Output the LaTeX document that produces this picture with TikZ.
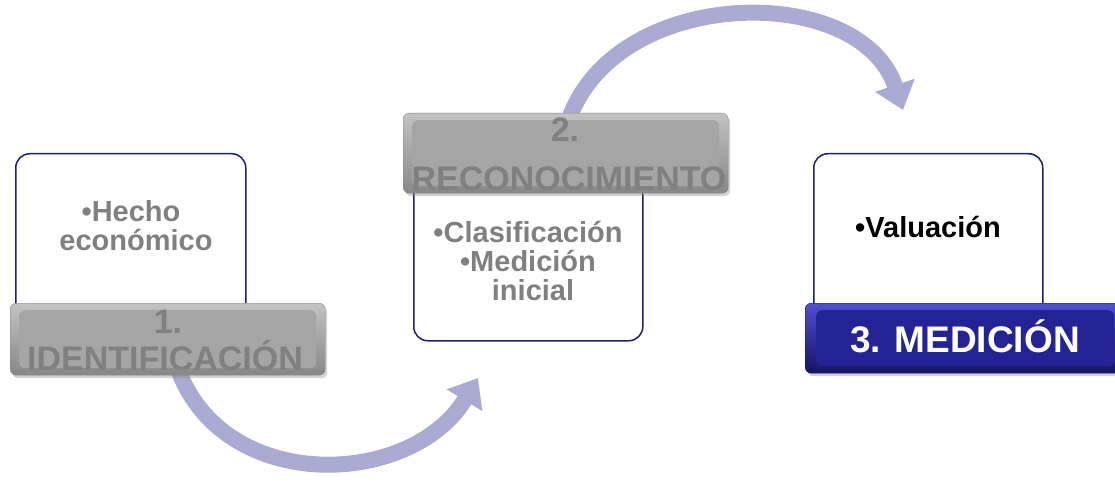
\documentclass[tikz,border=0pt]{standalone}
\usepackage{fontspec}
\setmainfont{Liberation Sans}
\usetikzlibrary{arrows.meta,shadows}
\definecolor{navy}{RGB}{30,30,110}
\definecolor{txtgray}{RGB}{128,128,128}
\definecolor{grayhi}{RGB}{195,195,195}
\definecolor{graylo}{RGB}{135,135,135}
\definecolor{grayin}{RGB}{165,165,165}
\definecolor{bluehi}{RGB}{80,80,210}
\definecolor{bluelo}{RGB}{20,20,100}
\definecolor{bluein}{RGB}{35,35,150}
\definecolor{lav}{RGB}{170,170,210}
\begin{document}
\begin{tikzpicture}[x=1pt,y=-1pt,
  card/.style={draw=navy,line width=1.5pt,fill=white,rounded corners=14pt,
    inner sep=0pt,anchor=north west},
  band/.style={rounded corners=6pt,inner sep=0pt,anchor=north west,
    drop shadow={shadow xshift=2pt,shadow yshift=-3pt,opacity=0.35}},
  grayband/.style={band,top color=grayhi,bottom color=graylo,draw=graylo,
    path picture={\fill[grayin] ([shift={(9pt,-7pt)}]path picture bounding box.north west)
      rectangle ([shift={(-9pt,7pt)}]path picture bounding box.south east);}},
  blueband/.style={band,top color=bluehi,bottom color=bluelo,draw=bluelo,
    path picture={\fill[bluein] ([shift={(11pt,-7pt)}]path picture bounding box.north west)
      rectangle ([shift={(-11pt,7pt)}]path picture bounding box.south east);}},
  flow/.style={draw=lav,line width=16pt,-{Triangle[width=40pt,length=26pt]}},
  content/.style={font=\fontsize{29}{31}\selectfont\bfseries,text=txtgray,anchor=base,inner sep=0pt},
  title/.style={font=\fontsize{34}{38}\selectfont\bfseries,text=txtgray,anchor=base,inner sep=0pt},
]
\useasboundingbox (0,0) rectangle (1115,481);
% cards
\node[card,minimum width=230pt,minimum height=177pt] (c1) at (15,153) {};
\node[card,minimum width=229pt,minimum height=160pt] (c2) at (413,180) {};
\node[card,minimum width=229pt,minimum height=177pt] (c3) at (813,153) {};
% connectors
\coordinate (a1s) at (175,360);
\coordinate (a1e) at (478,378);
\coordinate (a2s) at (567,125);
\coordinate (a2e) at (903,110);
\draw[flow] (a1s) .. controls (215,495) and (410,490) .. (a1e);
\draw[flow] (a2s) .. controls (610,-15) and (860,-20) .. (a2e);
% bands
\node[grayband,minimum width=315pt,minimum height=72pt] (b1) at (10,303) {};
\node[grayband,minimum width=325pt,minimum height=80pt] (b2) at (403,113) {};
\node[blueband,minimum width=320pt,minimum height=70pt] (b3) at (805,303) {};
% texts
\node[content] (t1a) at (131,221) {•Hecho};
\node[content] (t1b) at (136,250) {económico};
\node[content] (t2a) at (528,242) {•Clasificación};
\node[content] (t2b) at (528,271) {•Medición};
\node[content] (t2c) at (533,300) {inicial};
\node[content,text=black] (t3a) at (928,237) {•Valuación};
\node[title] (h1a) at (168,333) {1.};
\node[title] (h1b) at (165,370) {IDENTIFICACIÓN};
\node[title] (h2a) at (565,142) {2.};
\node[title] (h2b) at (569,190) {RECONOCIMIENTO};
\node[title,text=white,font=\fontsize{37}{40}\selectfont\bfseries] (h3) at (965,352) {3. MEDICIÓN};
\end{tikzpicture}
\end{document}
